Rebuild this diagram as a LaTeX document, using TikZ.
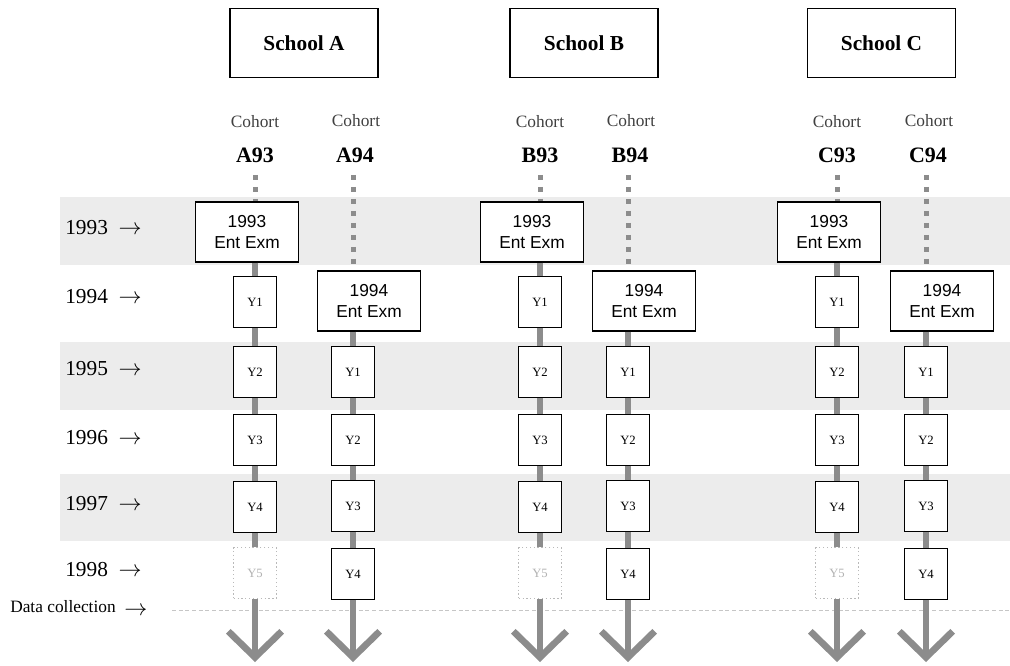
\documentclass[tikz,border=0pt]{standalone}
\usepackage{fontspec}
\setmainfont{Liberation Serif}
\newfontfamily\exmfont{Liberation Sans}
\usetikzlibrary{arrows.meta}
\definecolor{linkgray}{gray}{0.55}
\definecolor{bandgray}{gray}{0.925}
\begin{document}
\begin{tikzpicture}[x=0.75pt,y=-0.75pt,
        school/.style={draw, line width=0.9pt, fill=white, minimum width=111pt, minimum height=52pt, font=\fontsize{16}{19}\selectfont\bfseries},
        ent/.style={draw, line width=0.9pt, fill=white, minimum width=77pt, minimum height=45pt, align=center, font=\exmfont\fontsize{13}{16}\selectfont},
        yb/.style={draw, line width=0.9pt, fill=white, minimum width=32pt, minimum height=38pt, inner sep=0pt, font=\fontsize{9.5}{11}\selectfont},
        ybfaded/.style={yb, draw=gray!55, dotted, text=gray!60},
        coh/.style={font=\fontsize{13}{15}\selectfont, text=black!75},
        cohlbl/.style={font=\fontsize{16.5}{19}\selectfont\bfseries},
        link/.style={draw=linkgray, line width=4pt},
        dots/.style={draw=linkgray, line width=3.75pt, dash pattern=on 3.75pt off 5.25pt},
        down/.style={link, -{Straight Barb[length=19.5pt, width=40pt, line width=5pt]}},
        yr/.style={anchor=west, inner sep=0pt, font=\fontsize{16}{19}\selectfont}]
    \useasboundingbox (0,0) rectangle (1010,666);
    \foreach \t/\b in {197/265, 342/410, 474/541} {\fill[bandgray] (60,\t) rectangle (1010,\b);}
    \draw[gray!45, densely dashed, line width=0.6pt] (172,610) -- (1010,610);
    \foreach \yr/\y in {1993/228, 1994/297, 1995/369, 1996/438, 1997/504, 1998/570} {\node[yr] (yr\yr) at (65,\y) {\yr\ \ $\rightarrow$};}
    \node[yr, font=\fontsize{13}{16}\selectfont] (dc) at (10,608) {Data collection\ \ \raisebox{-2pt}{\fontsize{16}{19}\selectfont$\rightarrow$}};
    \foreach \s/\xa/\xb in {A/255/353, B/540/628, C/837/926} {
        \node[school] (sch\s) at ({(\xa+\xb)/2},43) {School \s};
        \node[coh]    (\s93c) at (\xa,122) {Cohort};
        \node[coh]    (\s94c) at (\xb+3,121) {Cohort};
        \node[cohlbl] (\s93l) at (\xa,155) {\s93};
        \node[cohlbl] (\s94l) at (\xb+2,155) {\s94};
        \node[ent] (\s93e) at (\xa-8,232) {1993\\Ent Exm};
        \node[ent] (\s94e) at (\xb+16,301) {1994\\Ent Exm};
        \foreach \y [count=\i] in {302,372,440,507} {\node[yb] (\s93y\i) at (\xa,\y) {Y\i};}
        \node[ybfaded] (\s93y5) at (\xa,573) {Y5};
        \foreach \y [count=\i] in {372,440,506,574} {\node[yb] (\s94y\i) at (\xb,\y) {Y\i};}
        \coordinate (\s93t) at (\xa,175);
        \coordinate (\s94t) at (\xb,175);
        \coordinate (\s93d) at (\xa,662);
        \coordinate (\s94d) at (\xb,662);
        % cohort lines: dotted before the entrance exam, solid through the school years
        \draw[dots] (\s93t) -- (\s93t |- \s93e.north);
        \draw[dots] (\s94t) -- (\s94t |- \s94e.north);
        \draw[link] (\s93e.south -| \s93y1) -- (\s93y1);
        \draw[link] (\s94e.south -| \s94y1) -- (\s94y1);
        \foreach \i [count=\j from 2] in {1,...,4} {\draw[link] (\s93y\i) -- (\s93y\j);}
        \foreach \i [count=\j from 2] in {1,...,3} {\draw[link] (\s94y\i) -- (\s94y\j);}
        \draw[down] (\s93y5) -- (\s93d);
        \draw[down] (\s94y4) -- (\s94d);
    }
\end{tikzpicture}
\end{document}
